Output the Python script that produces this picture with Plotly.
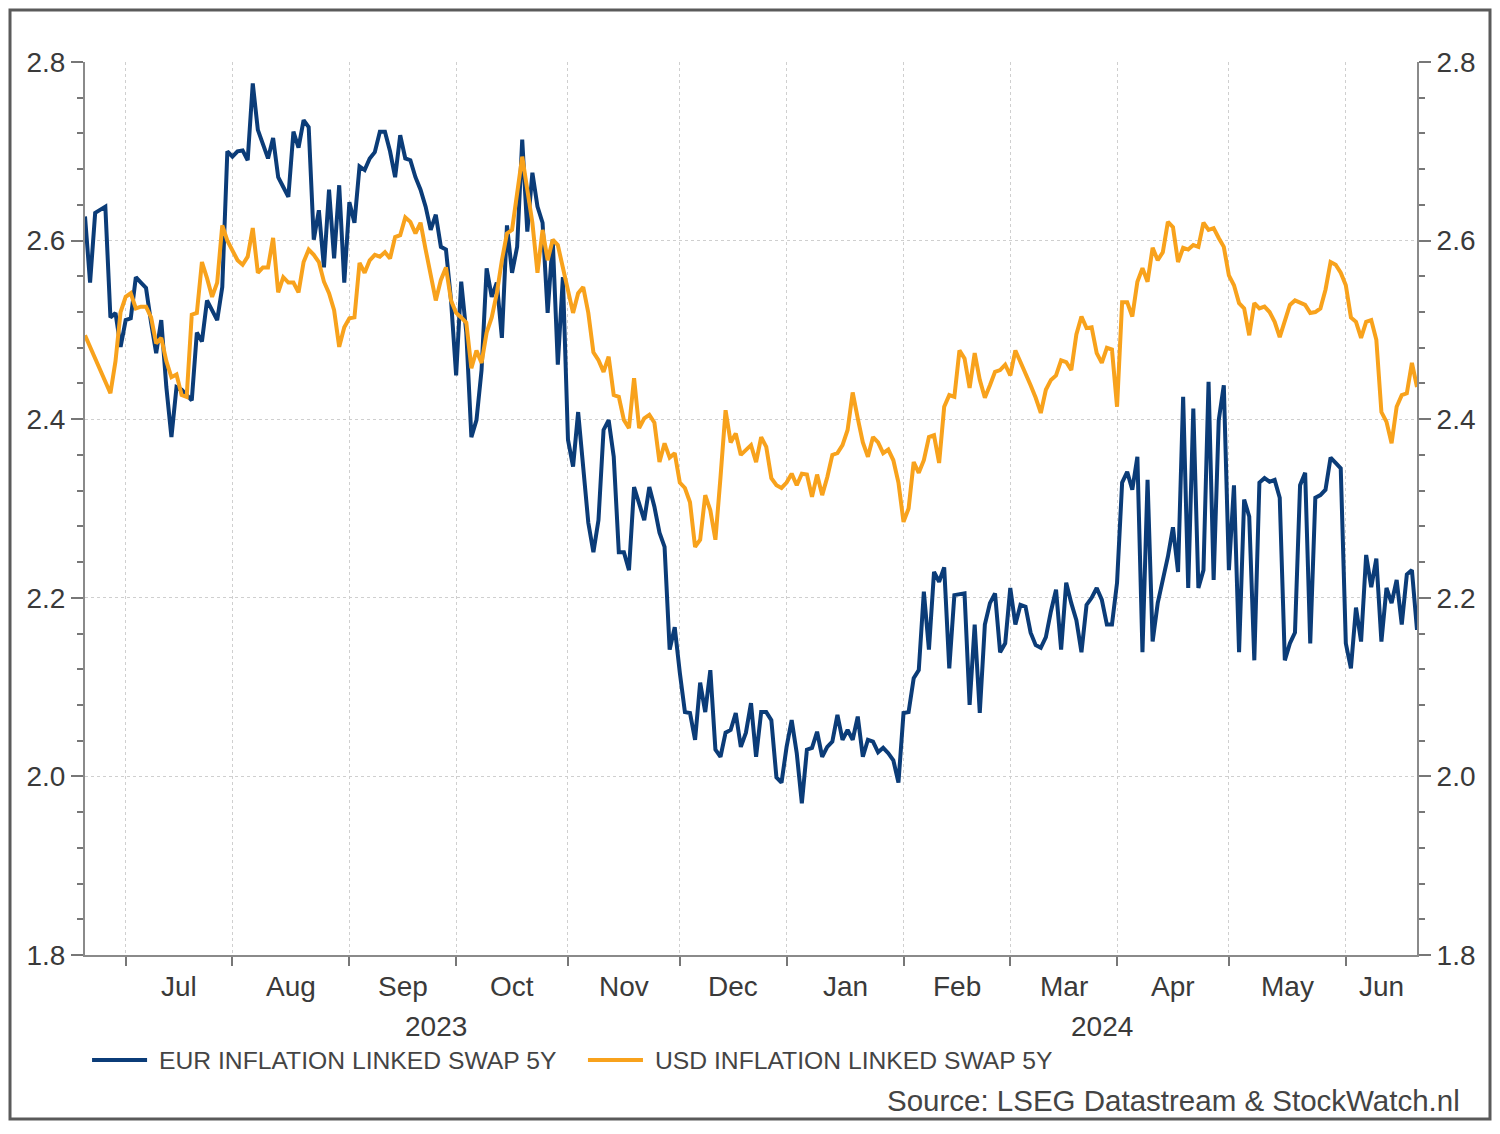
import pandas as pd
import plotly.graph_objects as go

# ---------------- data ----------------
START_DATE = "2023-06-21"
END_DATE = "2024-06-21"
dates = pd.bdate_range(START_DATE, END_DATE)

eur_5y = [
    2.627, 2.553, 2.631, 2.635, 2.638, 2.514, 2.519, 2.481, 2.511, 2.513,
    2.559, 2.553, 2.547, 2.508, 2.474, 2.511, 2.436, 2.380, 2.436, 2.433,
    2.427, 2.421, 2.497, 2.487, 2.533, 2.522, 2.511, 2.548, 2.700, 2.694,
    2.700, 2.701, 2.690, 2.776, 2.724, 2.708, 2.692, 2.715, 2.671, 2.660,
    2.649, 2.722, 2.704, 2.735, 2.727, 2.601, 2.634, 2.570, 2.657, 2.580,
    2.662, 2.553, 2.643, 2.620, 2.683, 2.679, 2.692, 2.699, 2.722, 2.722,
    2.700, 2.671, 2.718, 2.692, 2.690, 2.671, 2.657, 2.638, 2.612, 2.629,
    2.593, 2.590, 2.533, 2.449, 2.554, 2.497, 2.380, 2.399, 2.455, 2.569,
    2.537, 2.553, 2.491, 2.617, 2.564, 2.593, 2.713, 2.610, 2.676, 2.638,
    2.620, 2.519, 2.601, 2.461, 2.559, 2.377, 2.347, 2.408, 2.347, 2.284,
    2.251, 2.287, 2.388, 2.399, 2.358, 2.251, 2.251, 2.231, 2.324, 2.307,
    2.287, 2.324, 2.302, 2.273, 2.257, 2.142, 2.167, 2.116, 2.072, 2.071,
    2.041, 2.105, 2.072, 2.119, 2.030, 2.022, 2.049, 2.052, 2.071, 2.033,
    2.049, 2.082, 2.022, 2.072, 2.072, 2.063, 1.999, 1.993, 2.033, 2.063,
    2.026, 1.970, 2.030, 2.032, 2.050, 2.022, 2.033, 2.039, 2.069, 2.041,
    2.052, 2.041, 2.067, 2.022, 2.041, 2.039, 2.027, 2.032, 2.026, 2.018,
    1.993, 2.071, 2.072, 2.110, 2.119, 2.207, 2.142, 2.229, 2.218, 2.234,
    2.121, 2.203, 2.204, 2.205, 2.080, 2.170, 2.071, 2.170, 2.194, 2.205,
    2.139, 2.149, 2.211, 2.170, 2.192, 2.190, 2.161, 2.147, 2.144, 2.156,
    2.185, 2.209, 2.142, 2.217, 2.194, 2.175, 2.139, 2.192, 2.200, 2.211,
    2.198, 2.170, 2.170, 2.217, 2.329, 2.341, 2.321, 2.358, 2.139, 2.332,
    2.151, 2.194, 2.220, 2.246, 2.279, 2.229, 2.425, 2.211, 2.412, 2.211,
    2.231, 2.442, 2.220, 2.399, 2.438, 2.231, 2.326, 2.139, 2.310, 2.291,
    2.130, 2.329, 2.334, 2.330, 2.332, 2.312, 2.130, 2.149, 2.161, 2.326,
    2.340, 2.149, 2.312, 2.315, 2.321, 2.357, 2.351, 2.345, 2.149, 2.121,
    2.189, 2.151, 2.248, 2.212, 2.244, 2.151, 2.211, 2.194, 2.220, 2.170,
    2.226, 2.231, 2.164,
]

usd_5y = [
    2.494, 2.481, 2.468, 2.455, 2.440, 2.429, 2.465, 2.520, 2.537, 2.541,
    2.524, 2.526, 2.526, 2.514, 2.485, 2.491, 2.465, 2.447, 2.450, 2.427,
    2.425, 2.517, 2.519, 2.576, 2.558, 2.537, 2.553, 2.617, 2.600, 2.590,
    2.578, 2.573, 2.582, 2.614, 2.564, 2.570, 2.570, 2.603, 2.542, 2.559,
    2.553, 2.553, 2.542, 2.576, 2.590, 2.584, 2.576, 2.554, 2.541, 2.522,
    2.481, 2.503, 2.513, 2.514, 2.575, 2.564, 2.578, 2.584, 2.582, 2.587,
    2.580, 2.604, 2.606, 2.626, 2.621, 2.608, 2.620, 2.590, 2.560, 2.533,
    2.556, 2.570, 2.533, 2.519, 2.514, 2.508, 2.457, 2.477, 2.463, 2.497,
    2.514, 2.541, 2.578, 2.608, 2.612, 2.653, 2.694, 2.657, 2.620, 2.564,
    2.612, 2.578, 2.601, 2.595, 2.570, 2.545, 2.519, 2.541, 2.548, 2.519,
    2.475, 2.466, 2.453, 2.470, 2.427, 2.425, 2.399, 2.390, 2.446, 2.390,
    2.401, 2.405, 2.396, 2.352, 2.373, 2.357, 2.362, 2.329, 2.323, 2.307,
    2.257, 2.265, 2.315, 2.298, 2.265, 2.335, 2.410, 2.374, 2.384, 2.360,
    2.366, 2.371, 2.352, 2.380, 2.369, 2.334, 2.326, 2.323, 2.329, 2.339,
    2.326, 2.339, 2.338, 2.313, 2.338, 2.315, 2.335, 2.360, 2.362, 2.371,
    2.388, 2.430, 2.401, 2.374, 2.358, 2.380, 2.374, 2.362, 2.366, 2.354,
    2.329, 2.285, 2.300, 2.352, 2.340, 2.354, 2.380, 2.382, 2.351, 2.414,
    2.427, 2.425, 2.477, 2.468, 2.435, 2.474, 2.444, 2.424, 2.438, 2.453,
    2.455, 2.461, 2.449, 2.477, 2.464, 2.452, 2.438, 2.424, 2.407, 2.433,
    2.444, 2.449, 2.466, 2.464, 2.455, 2.495, 2.515, 2.502, 2.503, 2.474,
    2.463, 2.480, 2.478, 2.414, 2.531, 2.531, 2.515, 2.554, 2.569, 2.554,
    2.592, 2.578, 2.587, 2.621, 2.615, 2.576, 2.592, 2.590, 2.595, 2.593,
    2.620, 2.612, 2.614, 2.603, 2.593, 2.561, 2.550, 2.530, 2.524, 2.494,
    2.530, 2.524, 2.526, 2.520, 2.509, 2.492, 2.509, 2.528, 2.533, 2.531,
    2.528, 2.519, 2.520, 2.524, 2.545, 2.576, 2.573, 2.564, 2.550, 2.514,
    2.509, 2.491, 2.509, 2.511, 2.489, 2.408, 2.397, 2.373, 2.414, 2.427,
    2.429, 2.463, 2.436,
]

series_names = ["EUR INFLATION LINKED SWAP 5Y", "USD INFLATION LINKED SWAP 5Y"]
series_colors = ["#0B3C78", "#F8A21C"]
y_ticks = [1.8, 2.0, 2.2, 2.4, 2.6, 2.8]
source_text = "Source: LSEG Datastream & StockWatch.nl"

# ---------------- figure ----------------
N = len(dates)
month_start_idx = [i for i in range(1, N) if dates[i].month != dates[i - 1].month]
month_starts = [dates[i] for i in month_start_idx]

fig = go.Figure()
fig.add_trace(go.Scatter(x=dates, y=eur_5y, mode="lines", name=series_names[0],
                         line=dict(color=series_colors[0], width=4), showlegend=False))
fig.add_trace(go.Scatter(x=dates, y=usd_5y, mode="lines", name=series_names[1],
                         line=dict(color=series_colors[1], width=4), showlegend=False))
# carrier for the right-hand axis
fig.add_trace(go.Scatter(x=dates, y=usd_5y, mode="lines", yaxis="y2", opacity=0,
                         line=dict(width=0), showlegend=False, hoverinfo="skip"))

FONT = "Liberation Sans, Arial, sans-serif"
TXT = "#3a3a3a"
axis_common = dict(
    range=[1.8, 2.8], tickvals=y_ticks, tickformat=".1f",
    ticks="outside", ticklen=12, tickwidth=1.5, tickcolor="#777",
    showline=True, linecolor="#8a8a8a", linewidth=2, zeroline=False,
    tickfont=dict(family=FONT, size=28, color=TXT),
    minor=dict(dtick=0.04, tick0=1.8, ticks="outside", ticklen=6,
               tickwidth=1.5, tickcolor="#777", showgrid=False),
    fixedrange=True,
)

fig.update_layout(
    width=1500, height=1134,
    margin=dict(l=85, r=83, t=62, b=179, autoexpand=False),
    paper_bgcolor="white", plot_bgcolor="white",
    font=dict(family=FONT, color=TXT),
    xaxis=dict(
        type="date", range=[dates[0], dates[-1]],
        rangebreaks=[dict(bounds=["sat", "mon"])],
        tickvals=month_starts, ticktext=[""] * len(month_starts),
        ticks="outside", ticklen=9, tickwidth=1.5, tickcolor="#777",
        showline=True, linecolor="#8a8a8a", linewidth=2,
        showgrid=True, gridcolor="#cfcfcf", griddash="dot", gridwidth=1,
        zeroline=False,
    ),
    yaxis=dict(**axis_common, showgrid=True, gridcolor="#cfcfcf",
               griddash="dot", gridwidth=1),
    yaxis2=dict(**axis_common, overlaying="y", side="right", showgrid=False),
)

def idx_to_paper(i):
    return i / (N - 1)

# month labels centred in each month's span
bounds = month_start_idx + [N - 1]
for k, s in enumerate(month_start_idx):
    e = bounds[k + 1]
    fig.add_annotation(x=idx_to_paper((s + e) / 2), y=-0.0358, xref="paper", yref="paper",
                       text=dates[s].strftime("%b"), showarrow=False,
                       font=dict(family=FONT, size=28, color=TXT),
                       xanchor="center", yanchor="middle")

# year labels centred on the visible span of each year
year_start = [i for i in month_start_idx if dates[i].month == 1][0]
for txt, (a, b) in zip(["2023", "2024"], [(0, year_start), (year_start, N - 1)]):
    fig.add_annotation(x=idx_to_paper((a + b) / 2), y=-0.0806, xref="paper", yref="paper",
                       text=txt, showarrow=False,
                       font=dict(family=FONT, size=28, color=TXT),
                       xanchor="center", yanchor="middle")

# legend (drawn manually to match the original layout)
leg_y = -0.1176
leg_items = [(0.0053, 0.0466, 0.0541), (0.3776, 0.4189, 0.4264)]
for (x0, x1, xt), name, col in zip(leg_items, series_names, series_colors):
    fig.add_shape(type="line", xref="paper", yref="paper", x0=x0, x1=x1,
                  y0=leg_y, y1=leg_y, line=dict(color=col, width=4))
    fig.add_annotation(x=xt, y=leg_y, xref="paper", yref="paper", text=name,
                       showarrow=False, xanchor="left", yanchor="middle",
                       font=dict(family=FONT, size=24.7, color="#444"))

fig.add_annotation(x=1.0338, y=-0.1624, xref="paper", yref="paper", text=source_text,
                   showarrow=False, xanchor="right", yanchor="middle",
                   font=dict(family=FONT, size=29.5, color="#444"))

# outer frame
fig.add_shape(type="rect", xref="paper", yref="paper",
              x0=-0.0563, x1=1.0548, y0=-0.1837, y1=1.0582,
              line=dict(color="#5a5a5a", width=3), fillcolor="rgba(0,0,0,0)")

fig.write_html("out.html")
